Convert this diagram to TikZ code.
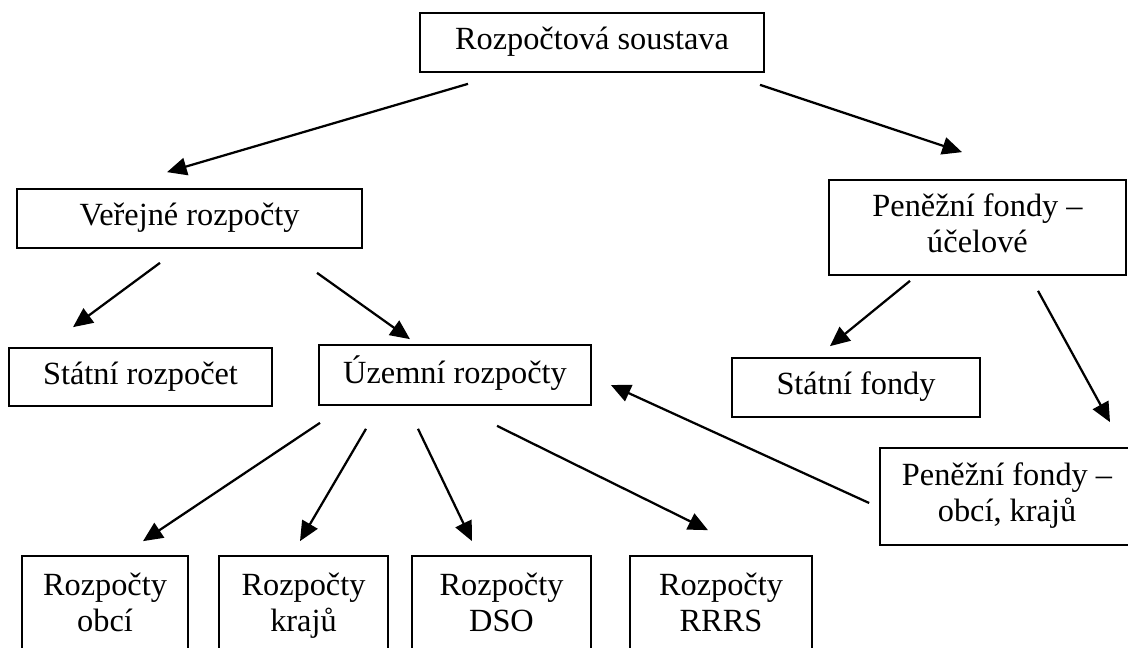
\documentclass[tikz,border=0pt]{standalone}
\usepackage{fontspec}
\setmainfont{Liberation Serif}
\usetikzlibrary{arrows.meta}

\begin{document}
\begin{tikzpicture}[x=0.025cm, y=-0.025cm,
    box/.style={draw, line width=1.2pt, inner sep=0pt, align=center, font=\fontsize{23}{25.6}\selectfont},
    arr/.style={line width=1.6pt, -{Triangle[length=14pt, width=12.5pt]}}]
  \useasboundingbox (0,0) rectangle (1128,648);
  % boxes
  \node[box, minimum width=8.6cm, minimum height=1.475cm] (rs) at (592,42.5) {\strut Rozpočtová soustava};
  \node[box, minimum width=8.625cm, minimum height=1.475cm] (vr) at (189.5,218.5) {\strut Veřejné rozpočty};
  \node[box, minimum width=7.425cm, minimum height=2.375cm] (pfu) at (977.5,227.5) {\strut Peněžní fondy –\\\strut účelové};
  \node[box, minimum width=6.575cm, minimum height=1.45cm] (sr) at (140.5,377) {\strut Státní rozpočet};
  \node[box, minimum width=6.8cm, minimum height=1.5cm] (ur) at (455,375) {\strut Územní rozpočty};
  \node[box, minimum width=6.2cm, minimum height=1.475cm] (sf) at (856,387.5) {\strut Státní fondy};
  \node[box, minimum width=6.35cm, minimum height=2.425cm] (pfo) at (1007,496.5) {\strut Peněžní fondy –\\\strut obcí, krajů};
  \node[box, minimum width=4.15cm, minimum height=2.5cm] (ro) at (105,606) {\strut Rozpočty\\\strut obcí};
  \node[box, minimum width=4.225cm, minimum height=2.5cm] (rk) at (303.5,606) {\strut Rozpočty\\\strut krajů};
  \node[box, minimum width=4.475cm, minimum height=2.5cm] (rd) at (501.5,606) {\strut Rozpočty\\\strut DSO};
  \node[box, minimum width=4.55cm, minimum height=2.5cm] (rr) at (721,606) {\strut Rozpočty\\\strut RRRS};
  % arrows
  \draw[arr] ([shift={(-124,11)}]rs.south) -- ([shift={(-22.5,-16)}]vr.north);
  \draw[arr] ([shift={(168,12)}]rs.south) -- ([shift={(-15.5,-27)}]pfu.north);
  \draw[arr] ([shift={(-29.5,14)}]vr.south) -- ([shift={(-67.5,-20)}]sr.north);
  \draw[arr] ([shift={(127.5,24)}]vr.south) -- ([shift={(-45,-5)}]ur.north);
  \draw[arr] ([shift={(-67.5,5)}]pfu.south) -- ([shift={(-26,-11)}]sf.north);
  \draw[arr] ([shift={(60.5,15)}]pfu.south) -- ([shift={(103,-25)}]pfo.north);
  \draw[arr] ([shift={(-10,6.5)}]pfo.west) -- ([shift={(19,10)}]ur.east);
  \draw[arr] ([shift={(-135,17)}]ur.south) -- ([shift={(38,-14)}]ro.north);
  \draw[arr] ([shift={(-89,23)}]ur.south) -- ([shift={(-3.5,-14)}]rk.north);
  \draw[arr] ([shift={(-37,23)}]ur.south) -- ([shift={(-29.5,-14)}]rd.north);
  \draw[arr] ([shift={(42,20)}]ur.south) -- ([shift={(-13,-25)}]rr.north);
\end{tikzpicture}
\end{document}
